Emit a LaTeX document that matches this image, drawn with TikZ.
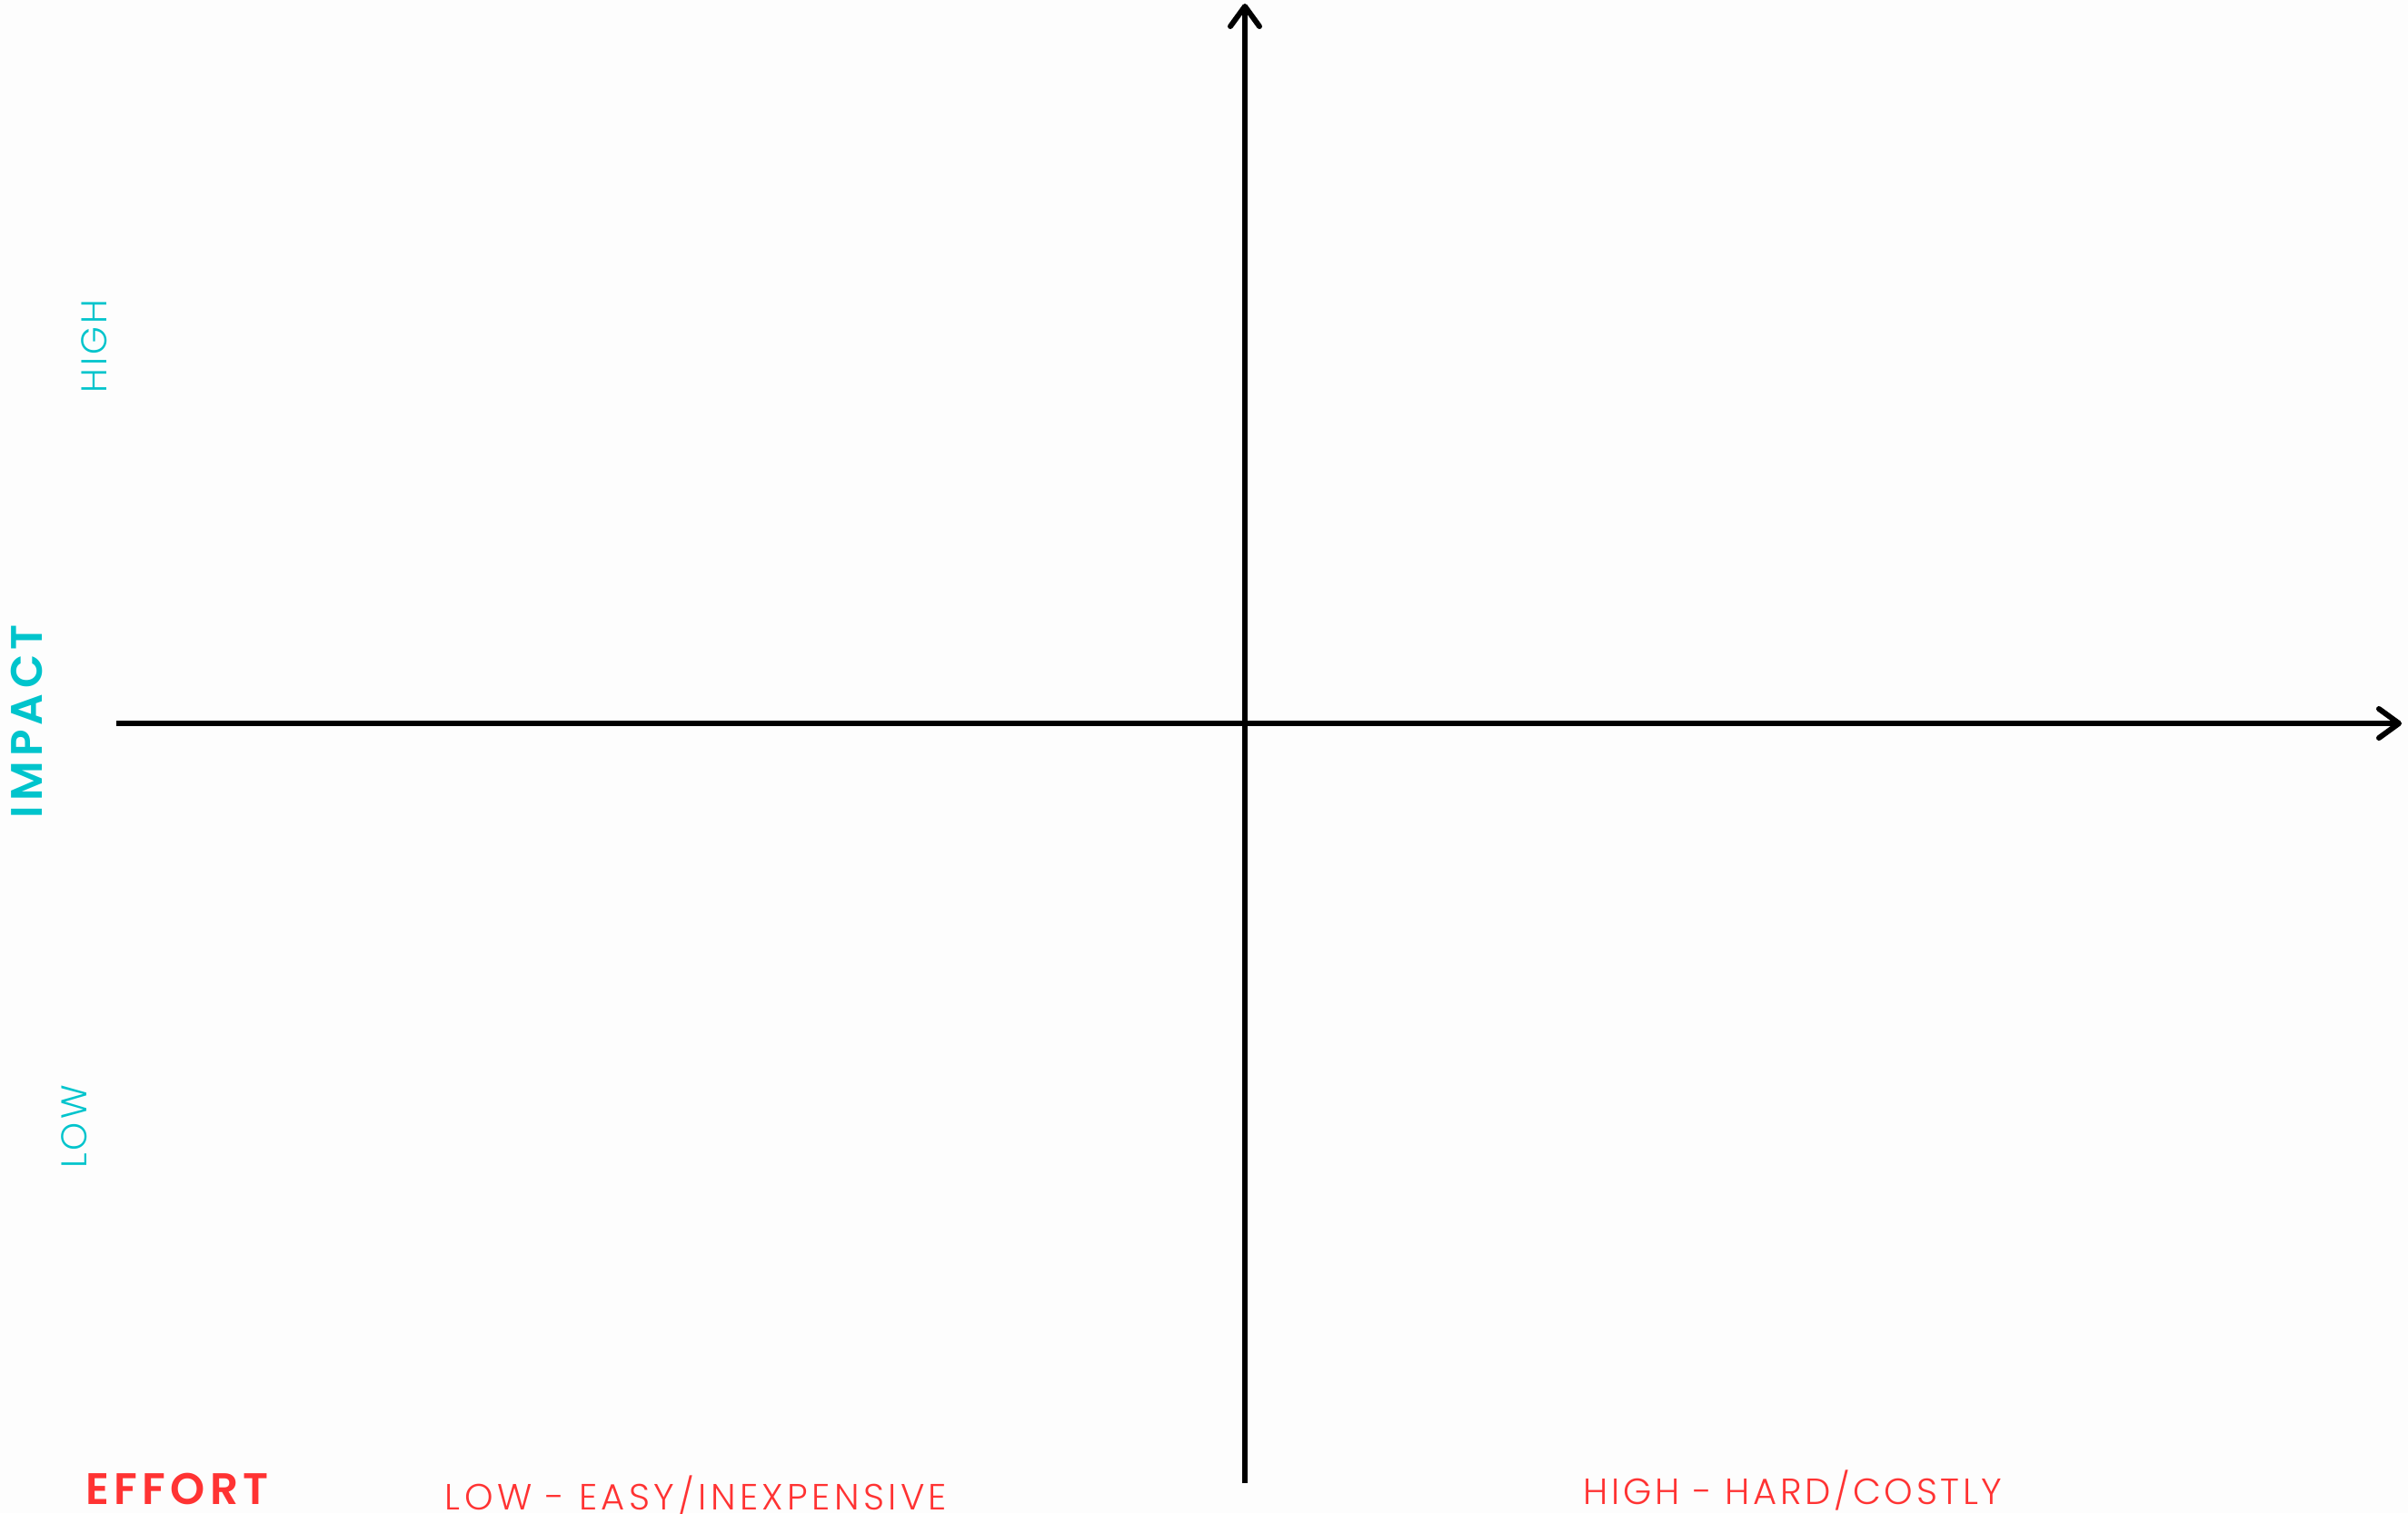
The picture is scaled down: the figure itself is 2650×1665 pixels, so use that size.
\documentclass[tikz,border=0pt]{standalone}
\usepackage{fontspec}
\setmainfont{Poppins Light}[LetterSpace=8]
\newfontfamily\boldfont{Poppins}[UprightFont=* SemiBold, LetterSpace=11]
\usetikzlibrary{arrows.meta}
\definecolor{impact}{RGB}{0,196,204}
\definecolor{effort}{RGB}{255,51,51}
\definecolor{paper}{RGB}{253,253,253}

\begin{document}
\begin{tikzpicture}[
    x=0.01cm, y=-0.01cm,
    axis/.style={line width=1.7pt, -{Straight Barb[length=2.2mm, width=3.2mm, line cap=round, line join=round]}},
    ylabel/.style={text=impact, rotate=90, inner sep=0pt, font=\fontsize{11.2}{12}\selectfont},
    xlabel/.style={text=effort, inner sep=0pt, anchor=base, text depth=0pt, font=\fontsize{11.4}{12}\selectfont},
    title/.style={inner sep=0pt, font=\boldfont\fontsize{13.8}{15}\selectfont}
]
    \fill[paper] (0,0) rectangle (2650,1665);
    \useasboundingbox (0,0) rectangle (2650,1665);

    % axes
    \coordinate (left) at (128,796);
    \coordinate (right) at (2643,796);
    \coordinate (bottom) at (1370,1632);
    \coordinate (top) at (1370,4);
    \draw[axis] (left) -- (right);
    \draw[axis] (bottom) -- (top);

    % impact labels
    \node[title, text=impact, rotate=90] (impact) at (29,794) {IMPACT};
    \node[ylabel] (high) at (104,381) {HIGH};
    \node[ylabel] (low) at (82,1240) {LOW};

    % effort labels
    \node[title, text=effort, anchor=base, text depth=0pt] (effort) at (195,1655) {EFFORT};
    \node[xlabel] (easy) at (766,1661) {\addfontfeatures{LetterSpace=11}LOW - EASY/INEXPENSIVE};
    \node[xlabel] (hard) at (1973,1655) {\addfontfeatures{LetterSpace=9}HIGH - HARD/COSTLY};
\end{tikzpicture}
\end{document}
